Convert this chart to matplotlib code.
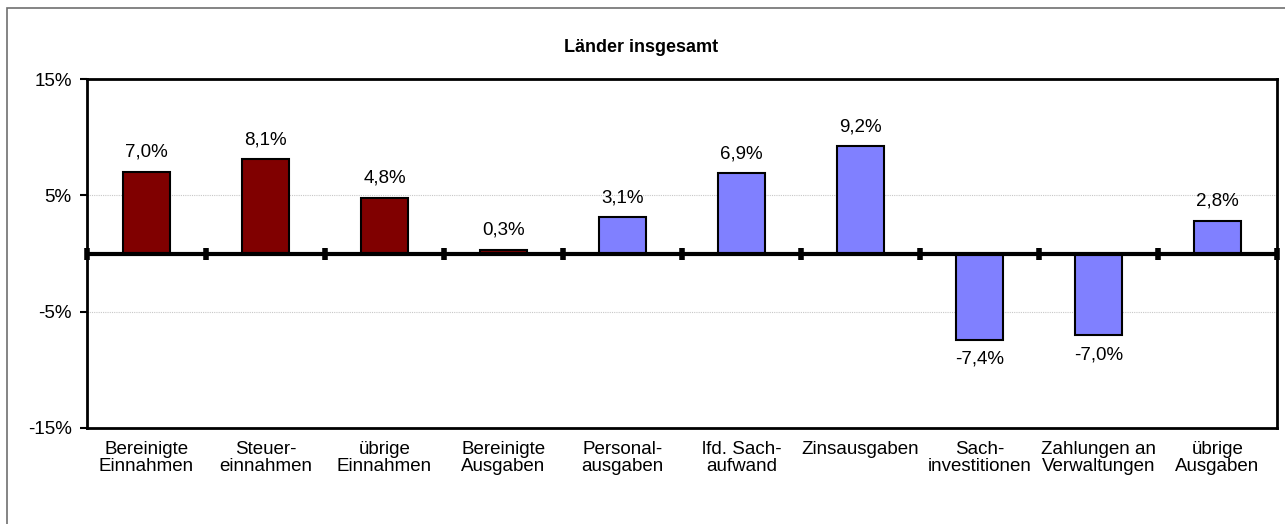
import matplotlib.pyplot as plt
from matplotlib.patches import Rectangle

categories = [
    "Bereinigte\nEinnahmen", "Steuer-\neinnahmen", "übrige\nEinnahmen",
    "Bereinigte\nAusgaben", "Personal-\nausgaben", "lfd. Sach-\naufwand",
    "Zinsausgaben", "Sach-\ninvestitionen", "Zahlungen an\nVerwaltungen",
    "übrige\nAusgaben",
]
values = [7.0, 8.1, 4.8, 0.3, 3.1, 6.9, 9.2, -7.4, -7.0, 2.8]
groups = ["ein", "ein", "ein", "ein", "aus", "aus", "aus", "aus", "aus", "aus"]
y_ticks = [-15, -5, 5, 15]

colors = {"ein": "#800000", "aus": "#8080FF"}

plt.rcParams["font.family"] = ["Liberation Sans", "DejaVu Sans"]

fig = plt.figure(figsize=(12.85, 5.24), dpi=100)
fig.patches.append(Rectangle((7 / 1285, -0.1), 1.2, 1 - 8 / 524 + 0.1,
                             transform=fig.transFigure, fill=False,
                             edgecolor="#6f6f6f", linewidth=1.2))
ax = fig.add_axes([87 / 1285, 1 - 428 / 524, 1190 / 1285, 349 / 524])

x = list(range(len(values)))
ax.bar(x, values, width=0.4, color=[colors[g] for g in groups],
       edgecolor="black", linewidth=1.5, zorder=3)

for xi, v in zip(x, values):
    label = f"{v:.1f}%".replace(".", ",")
    if v >= 0:
        ax.annotate(label, (xi, v), xytext=(0, 8), textcoords="offset points",
                    ha="center", va="bottom", fontsize=13.5)
    else:
        ax.annotate(label, (xi, v), xytext=(0, -8), textcoords="offset points",
                    ha="center", va="top", fontsize=13.5)

ax.set_xlim(-0.5, len(values) - 0.5)
ax.set_ylim(-15, 15)
ax.set_yticks(y_ticks)
ax.set_yticklabels([f"{t}%" for t in y_ticks], fontsize=13.5)
ax.set_xticks(x)
ax.set_xticklabels(categories, fontsize=13.5, linespacing=1.05)
ax.tick_params(axis="x", length=0, pad=9)
ax.tick_params(axis="y", length=5, width=1.5, direction="out", pad=6)

for t in [-5, 5]:
    ax.axhline(t, color="#c8c8c8", linewidth=0.8, linestyle=(0, (1, 1)), zorder=1)

ax.axhline(0, color="black", linewidth=3, zorder=4)
bounds = [i - 0.5 for i in range(len(values) + 1)]
ax.plot(bounds, [0] * len(bounds), linestyle="none", marker="|",
        markersize=9, markeredgewidth=4, color="black", zorder=5, clip_on=False)

for s in ax.spines.values():
    s.set_linewidth(2)
    s.set_color("black")

fig.text(641 / 1285, 1 - 47 / 524, "Länder insgesamt", ha="center", va="center",
         fontsize=13, fontweight="bold")

plt.savefig("out.png", dpi=100)
plt.close()
